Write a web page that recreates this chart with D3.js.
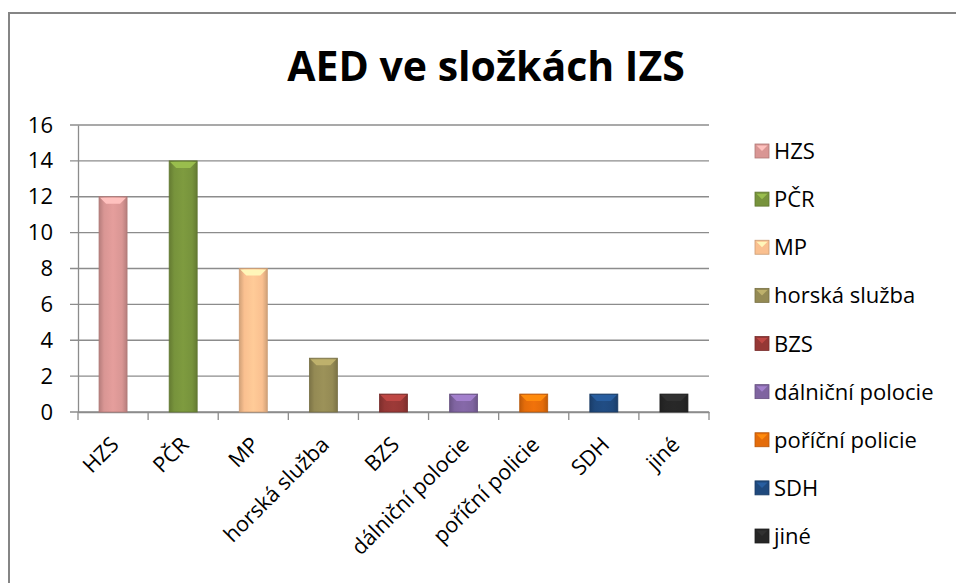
<!DOCTYPE html>
<html><head><meta charset="utf-8">
<script src="https://cdn.jsdelivr.net/npm/d3@7"></script>
<style>body{margin:0;background:#fff}svg{display:block}text{font-family:"Open Sans",sans-serif;fill:#000}</style>
</head><body><svg id="c" width="956" height="583"></svg>
<script>
const categories = ["HZS","PČR","MP","horská služba","BZS","dálniční polocie","poříční policie","SDH","jiné"];
const values = [12,14,8,3,1,1,1,1,1];
const colors = ["#d99694","#77933c","#fac090","#948a54","#953735","#7f64a0","#e46c0a","#1f497d","#262626"];
const yTicks = [0,2,4,6,8,10,12,14,16];
const title = "AED ve složkách IZS";

const svg = d3.select("#c");
svg.append("rect").attr("x",9).attr("y",13).attr("width",960).attr("height",600)
  .attr("fill","#fff").attr("stroke","#858585").attr("stroke-width",2);

const x = d3.scaleBand().domain(categories).range([78,709]);
const y = d3.scaleLinear().domain([0,16]).range([412,125]);

svg.append("text").attr("x",486).attr("y",81).attr("text-anchor","middle")
  .attr("font-size",41).attr("font-weight","bold").text(title);

// gridlines
svg.append("g").selectAll("line").data(yTicks).join("line")
  .attr("x1",70).attr("x2",709).attr("y1",d=>y(d)).attr("y2",d=>y(d))
  .attr("stroke","#8c8c8c").attr("stroke-width",1.3);

// y axis
const ya = svg.append("g").attr("transform","translate(78,0)")
  .call(d3.axisLeft(y).tickValues(yTicks).tickSize(0).tickPadding(25));
ya.select(".domain").attr("stroke","#8c8c8c").attr("stroke-width",1.3);
ya.selectAll("text").attr("font-size",22).attr("font-family","'Open Sans',sans-serif").attr("fill","#000");

// x axis
const xa = svg.append("g").attr("transform","translate(0,412)")
  .call(d3.axisBottom(x).tickSize(0).tickFormat(""));
xa.select(".domain").attr("stroke","#8c8c8c").attr("stroke-width",1.3);
const bounds = categories.map(c=>x(c)).concat([x.range()[1]]);
svg.append("g").selectAll("line").data(bounds).join("line")
  .attr("x1",d=>d).attr("x2",d=>d).attr("y1",412).attr("y2",420)
  .attr("stroke","#8c8c8c").attr("stroke-width",1.3);

svg.append("g").selectAll("text").data(categories).join("text")
  .attr("text-anchor","end").attr("font-size",21.5)
  .attr("transform",d=>`translate(${x(d)+x.bandwidth()/2+7},${446}) rotate(-45)`)
  .text(d=>d);

// gradients
const defs = svg.append("defs");
colors.forEach((c,i)=>{
  const g = defs.append("linearGradient").attr("id","g"+i).attr("x1","0").attr("x2","1").attr("y1","0").attr("y2","0");
  const dark = d3.color(c).darker(0.5), light = d3.color(c).brighter(0.15);
  g.append("stop").attr("offset","0").attr("stop-color",dark);
  g.append("stop").attr("offset","0.18").attr("stop-color",c);
  g.append("stop").attr("offset","0.5").attr("stop-color",light);
  g.append("stop").attr("offset","0.82").attr("stop-color",c);
  g.append("stop").attr("offset","1").attr("stop-color",dark);
});

const bw = 28;
const bars = svg.append("g").selectAll("g").data(values).join("g");
bars.append("rect")
  .attr("x",(d,i)=>x(categories[i])+x.bandwidth()/2-bw/2)
  .attr("y",d=>y(d)).attr("width",bw).attr("height",d=>y(0)-y(d))
  .attr("fill",(d,i)=>`url(#g${i})`)
  .attr("stroke",(d,i)=>d3.color(colors[i]).darker(0.6)).attr("stroke-width",0.8);
bars.append("path")
  .attr("d",(d,i)=>{const cx=x(categories[i])+x.bandwidth()/2, t=y(d);
    return `M${cx-bw/2+1},${t+1}L${cx+bw/2-1},${t+1}L${cx+bw/2-7},${t+7}L${cx-bw/2+7},${t+7}Z`;})
  .attr("fill",(d,i)=>d3.color(colors[i]).brighter(0.7));

// legend
const ly = d3.scalePoint().domain(categories).range([151,536]);
const lg = svg.append("g").selectAll("g").data(categories).join("g")
  .attr("transform",d=>`translate(755,${ly(d)})`);
lg.append("rect").attr("x",0).attr("y",-7).attr("width",14).attr("height",14)
  .attr("fill",(d,i)=>colors[i]).attr("stroke",(d,i)=>d3.color(colors[i]).darker(0.6)).attr("stroke-width",0.8);
lg.append("path").attr("d","M1.5,-5.5L12.5,-5.5L7,0Z").attr("fill",(d,i)=>d3.color(colors[i]).brighter(0.7));
lg.append("text").attr("x",19).attr("y",8).attr("font-size",22).text(d=>d);
</script></body></html>
